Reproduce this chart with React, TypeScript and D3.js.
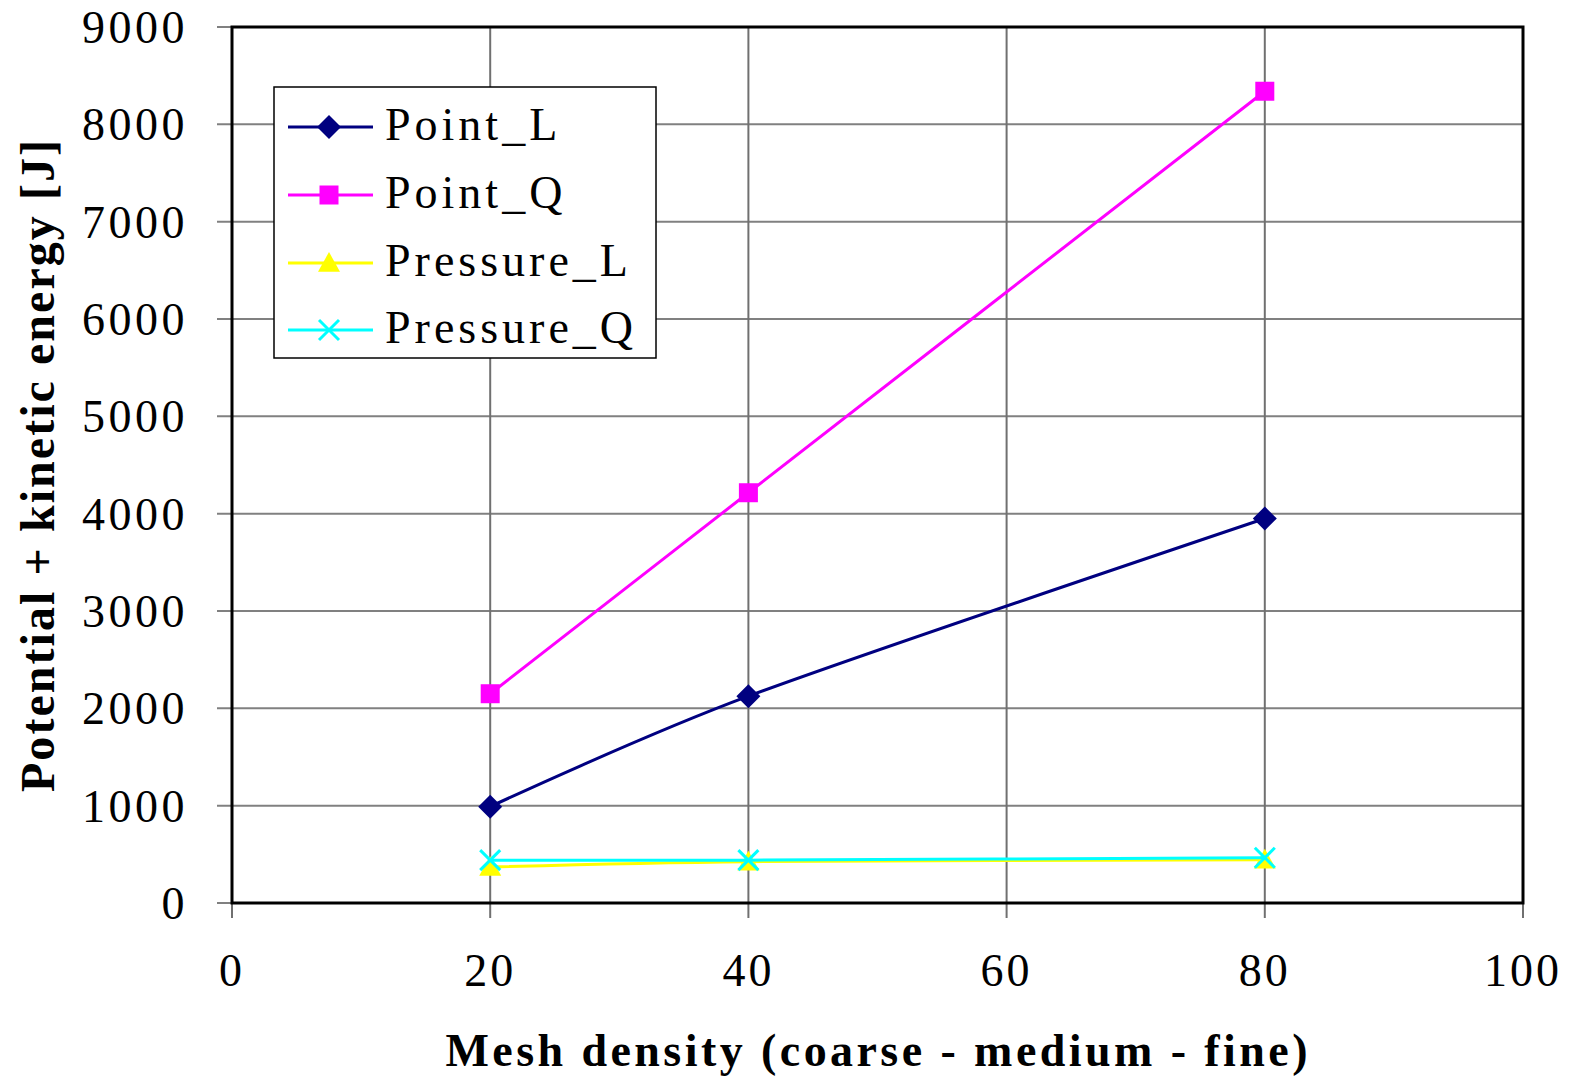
import React from "react";
import * as d3 from "d3";

const meshDensity = [20, 40, 80];
const pointL = [990, 2125, 3950];
const pointQ = [2150, 4215, 8340];
const pressureL = [370, 425, 445];
const pressureQ = [440, 440, 465];
const seriesNames = ["Point_L", "Point_Q", "Pressure_L", "Pressure_Q"];
const seriesColors = ["#000080", "#FF00FF", "#FFFF00", "#00FFFF"];
const seriesMarkers = ["diamond", "square", "triangle", "x"];
const xTicks = [0, 20, 40, 60, 80, 100];
const yTicks = [0, 1000, 2000, 3000, 4000, 5000, 6000, 7000, 8000, 9000];
const xTitle = "Mesh density (coarse - medium - fine)";
const yTitle = "Potential + kinetic energy [J]";

const W = 1573;
const H = 1080;
const FONT = "Liberation Serif, Tinos, Times New Roman, Times, serif";

function Marker({ kind, color, x, y }: { kind: string; color: string; x: number; y: number }) {
  if (kind === "diamond") {
    const r = 12;
    return <path d={`M${x},${y - r}L${x + r},${y}L${x},${y + r}L${x - r},${y}Z`} fill={color} />;
  }
  if (kind === "square") {
    const s = 19;
    return <rect x={x - s / 2} y={y - s / 2} width={s} height={s} fill={color} />;
  }
  if (kind === "triangle") {
    const r = 11;
    return <path d={`M${x},${y - r}L${x + r},${y + r * 0.8}L${x - r},${y + r * 0.8}Z`} fill={color} />;
  }
  const r = 10;
  return (
    <g stroke={color} strokeWidth={3}>
      <line x1={x - r} y1={y - r} x2={x + r} y2={y + r} />
      <line x1={x - r} y1={y + r} x2={x + r} y2={y - r} />
    </g>
  );
}

export default function App() {
  const left = 232, right = 1523, top = 27, bottom = 903;
  const x = d3.scaleLinear().domain([0, 100]).range([left, right]);
  const y = d3.scaleLinear().domain([0, 9000]).range([bottom, top]);
  const allSeries = [pointL, pointQ, pressureL, pressureQ];
  const line = d3
    .line<number>()
    .x((_, i) => x(meshDensity[i]))
    .y((d) => y(d))
    .curve(d3.curveCardinal.tension(0.2));

  const legendRows = [127, 195, 263, 330];
  const textStyle = { fontFamily: FONT };

  return (
    <div style={{ position: "absolute", left: 0, top: 0 }}>
      <svg width={W} height={H} style={{ display: "block", background: "#fff" }}>
        <rect x={0} y={0} width={W} height={H} fill="#fff" />
        {yTicks.map((t) => (
          <line key={"gy" + t} x1={left - 15} x2={right} y1={y(t)} y2={y(t)} stroke="#808080" strokeWidth={2} />
        ))}
        {xTicks.map((t) => (
          <line key={"gx" + t} x1={x(t)} x2={x(t)} y1={top} y2={bottom + 15} stroke="#707070" strokeWidth={2} />
        ))}
        <rect x={left} y={top} width={right - left} height={bottom - top} fill="none" stroke="#000" strokeWidth={3} />
        {yTicks.map((t) => (
          <text
            key={"ty" + t}
            x={188}
            y={y(t) + 16}
            textAnchor="end"
            style={textStyle}
            fontSize={46}
            letterSpacing={3.5}
            fill="#000"
          >
            {t}
          </text>
        ))}
        {xTicks.map((t) => (
          <text
            key={"tx" + t}
            x={x(t)}
            y={986}
            textAnchor="middle"
            style={textStyle}
            fontSize={46}
            letterSpacing={3}
            fill="#000"
          >
            {t}
          </text>
        ))}
        {allSeries.map((s, si) => (
          <g key={"s" + si}>
            <path d={line(s) || ""} fill="none" stroke={seriesColors[si]} strokeWidth={3} />
            {s.map((v, i) => (
              <Marker key={i} kind={seriesMarkers[si]} color={seriesColors[si]} x={x(meshDensity[i])} y={y(v)} />
            ))}
          </g>
        ))}
        <rect x={274} y={87} width={382} height={271} fill="#fff" stroke="#000" strokeWidth={1.5} />
        {seriesNames.map((n, i) => (
          <g key={"l" + i}>
            <line x1={288} x2={373} y1={legendRows[i]} y2={legendRows[i]} stroke={seriesColors[i]} strokeWidth={3} />
            <Marker kind={seriesMarkers[i]} color={seriesColors[i]} x={329} y={legendRows[i]} />
            <text x={385} y={legendRows[i] + 13} style={textStyle} fontSize={46} letterSpacing={4} fill="#000">
              {n}
            </text>
          </g>
        ))}
        <text
          x={(445 + 1308) / 2}
          y={1066}
          textAnchor="middle"
          style={textStyle}
          fontWeight="bold"
          fontSize={46}
          textLength={862}
          lengthAdjust="spacing"
          fill="#000"
        >
          {xTitle}
        </text>
        <text
          transform={`translate(54, ${(140 + 792) / 2}) rotate(-90)`}
          textAnchor="middle"
          style={textStyle}
          fontWeight="bold"
          fontSize={48}
          textLength={652}
          lengthAdjust="spacing"
          fill="#000"
        >
          {yTitle}
        </text>
      </svg>
    </div>
  );
}
